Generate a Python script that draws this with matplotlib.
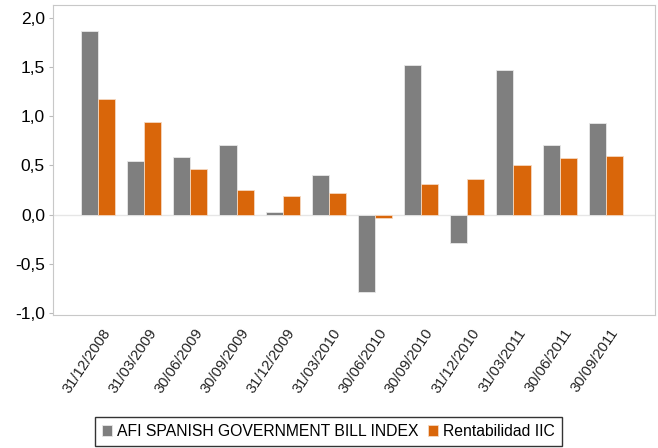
import matplotlib.pyplot as plt
import numpy as np

plt.rcParams['font.family'] = ['Liberation Sans', 'DejaVu Sans']

dates = ['31/12/2008', '31/03/2009', '30/06/2009', '30/09/2009', '31/12/2009', '31/03/2010',
         '30/06/2010', '30/09/2010', '31/12/2010', '31/03/2011', '30/06/2011', '30/09/2011']
afi_index = [1.87, 0.54, 0.58, 0.71, 0.03, 0.40, -0.79, 1.52, -0.29, 1.47, 0.71, 0.93]
rentabilidad = [1.17, 0.94, 0.46, 0.25, 0.19, 0.22, -0.04, 0.31, 0.36, 0.50, 0.57, 0.60]

gray = '#7f7f7f'
orange = '#d9660a'

fig = plt.figure(figsize=(6.58, 4.48), dpi=100)
ax = fig.add_axes([0.081, 0.297, 0.914, 0.692])

x = np.arange(len(dates))
w = 0.37
ax.bar(x - w / 2, afi_index, w, color=gray, edgecolor='#e8e8e8', linewidth=0.6,
       label='AFI SPANISH GOVERNMENT BILL INDEX', zorder=2)
ax.bar(x + w / 2, rentabilidad, w, color=orange, edgecolor='#f5d8c0', linewidth=0.6,
       label='Rentabilidad IIC', zorder=2)

ax.axhline(0, color='#e6e6e6', lw=1, zorder=1)
ax.set_xlim(-0.97, 12.06)
ax.set_ylim(-1.02, 2.13)
yt = [-1.0, -0.5, 0.0, 0.5, 1.0, 1.5, 2.0]
ax.set_yticks(yt)
ax.set_yticklabels([('%.1f' % v).replace('.', ',') for v in yt], fontsize=12.5)
# labels sit a little right of the group centre, as in the original
ax.set_xticks(x + 0.2)
ax.set_xticklabels(dates, rotation=56, ha='right', va='center', rotation_mode='anchor',
                   fontsize=10.6, color='#222222')
ax.tick_params(axis='x', length=0, pad=11)
ax.tick_params(axis='y', length=3, color='#bbbbbb', pad=3)
for s in ax.spines.values():
    s.set_color('#c8c8c8')

fig.legend(loc='center', bbox_to_anchor=(0.499, 0.037), ncol=2, frameon=True, fancybox=False,
           edgecolor='black', handlelength=0.65, handleheight=0.65, handletextpad=0.3,
           columnspacing=0.6, borderpad=0.45, prop={'size': 11.3})

fig.savefig('out.png', dpi=100)
